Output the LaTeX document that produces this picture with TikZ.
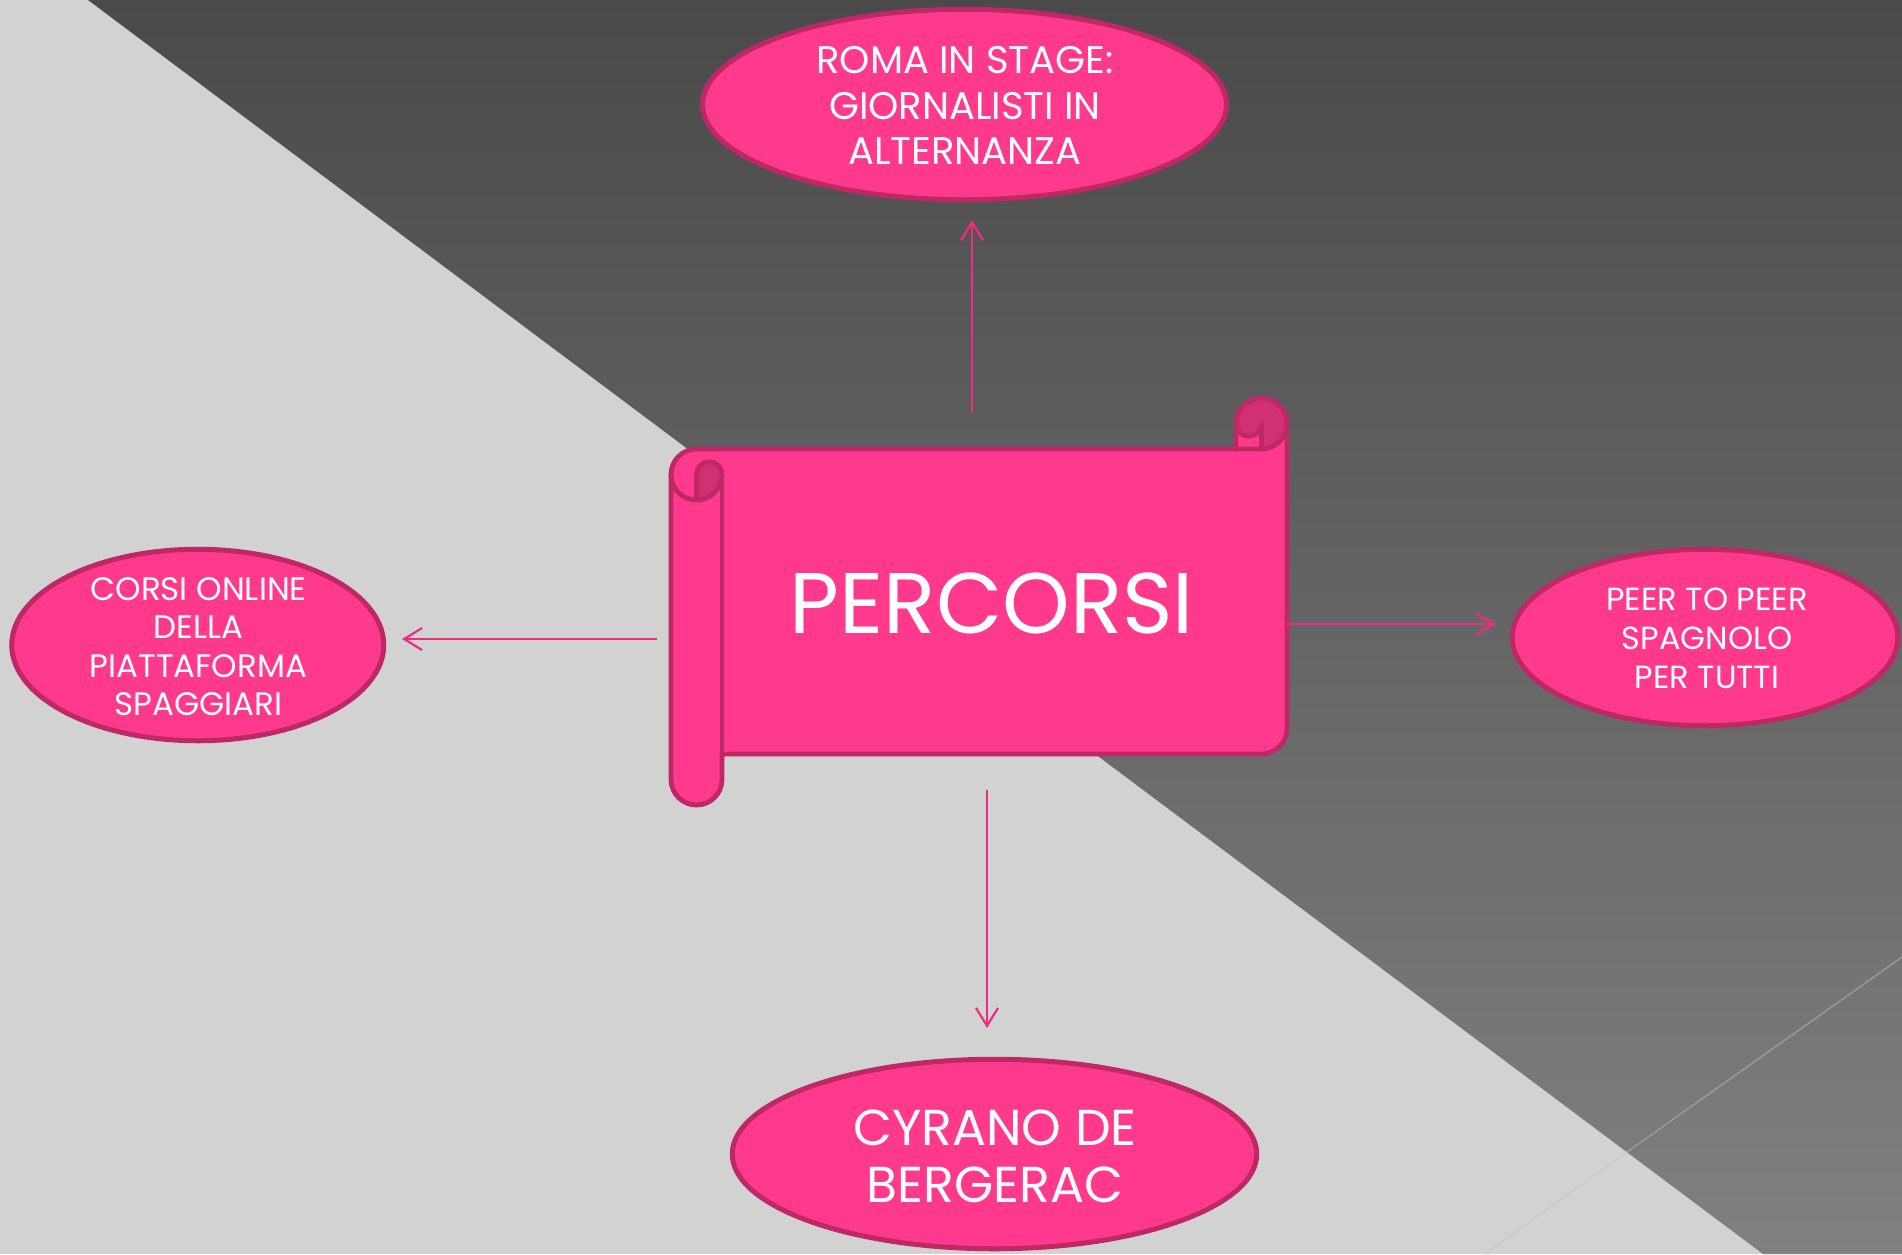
\documentclass[tikz,border=0pt]{standalone}
\usepackage{fontspec}
\setmainfont{Poppins}
\usetikzlibrary{shapes.geometric,arrows.meta}
\definecolor{pinkfill}{HTML}{FF3A8C}
\definecolor{pinkline}{HTML}{BE2864}
\definecolor{pinkdark}{HTML}{D23074}
\definecolor{arrowpink}{HTML}{EE2D80}
\definecolor{lightbg}{HTML}{D2D2D2}
\definecolor{darktop}{HTML}{4A4A4A}
\definecolor{darkbot}{HTML}{808080}
\begin{document}
\begin{tikzpicture}[x=1pt,y=-1pt,
  bubble/.style={ellipse, draw=pinkline, fill=pinkfill, line width=5pt, inner sep=0pt},
  txt/.style={text=white, align=center, inner sep=0pt},
  conn/.style={draw=arrowpink, line width=2.2pt, -{Straight Barb[length=18pt,width=22pt]}},
  scrollline/.style={draw=pinkline, line width=4.8pt, line join=round, line cap=round}]
\useasboundingbox (0,0) rectangle (1902,1254);
% background
\fill[lightbg] (0,0) rectangle (1902,1254);
\shade[top color=darktop, bottom color=darkbot] (88,0) -- (1902,0) -- (1902,1254) -- (1763,1254) -- cycle;
\draw[line width=1.5pt, color=black!40] (1627,1152) -- (1902,957);
\draw[line width=1.5pt, color=black!21] (1485,1254) -- (1627,1152);
% scroll shape
\fill[pinkfill] (1287,423.5) arc[start angle=0,delta angle=90,radius=25.5]
  -- (1261.5,423.5) arc[start angle=0,delta angle=180,radius=12.75]
  -- (1236,449) -- (696.5,449) arc[start angle=270,delta angle=-90,radius=25.5]
  -- (671,779.5) arc[start angle=180,delta angle=-180,radius=25.5]
  -- (722,754) -- (1261.5,754) arc[start angle=90,delta angle=-90,radius=25.5]
  -- cycle;
\fill[pinkdark] (696.5,500) arc[start angle=90,delta angle=-90,radius=25.5]
  arc[start angle=0,delta angle=-180,radius=12.75] -- cycle;
\fill[pinkdark] (1261.5,449) arc[start angle=90,delta angle=-270,radius=25.5]
  arc[start angle=180,delta angle=-180,radius=12.75] -- cycle;
\draw[scrollline] (671,474.5) arc[start angle=180,delta angle=90,radius=25.5]
  -- (1236,449) -- (1236,423.5) arc[start angle=180,delta angle=180,radius=25.5]
  -- (1287,728.5) arc[start angle=0,delta angle=90,radius=25.5]
  -- (722,754) -- (722,779.5) arc[start angle=0,delta angle=180,radius=25.5]
  -- cycle;
\draw[scrollline] (1236,449) -- (1261.5,449) arc[start angle=90,delta angle=-90,radius=25.5];
\draw[scrollline] (1261.5,449) -- (1261.5,423.5) arc[start angle=0,delta angle=180,radius=12.75];
\draw[scrollline] (696.5,500) -- (696.5,474.5) arc[start angle=180,delta angle=180,radius=12.75]
  arc[start angle=0,delta angle=180,radius=25.5];
\draw[scrollline] (722,474.5) -- (722,754);
\node[inner sep=0pt, minimum width=616pt, minimum height=407pt] (scroll) at (979,601.5) {};
% ellipses
\node[bubble, minimum width=524pt, minimum height=190.5pt] (top) at (964.5,104.5) {};
\node[bubble, minimum width=372pt, minimum height=191.5pt] (left) at (197.75,645) {};
\node[bubble, minimum width=385.5pt, minimum height=176.5pt] (right) at (1705,637.5) {};
\node[bubble, minimum width=524.5pt, minimum height=189.5pt] (bottom) at (994.5,1154) {};
% connectors
\coordinate (upS) at (972,412);   \coordinate (upE) at (972,220);
\coordinate (leS) at (657,639);   \coordinate (leE) at (402,639);
\coordinate (riS) at (1287,624);  \coordinate (riE) at (1496,624);
\coordinate (doS) at (987,790);   \coordinate (doE) at (987,1028);
\draw[conn] (upS) -- (upE);
\draw[conn] (leS) -- (leE);
\draw[conn] (riS) -- (riE);
\draw[conn] (doS) -- (doE);
% texts
\node[txt, font=\fontsize{86}{86}\selectfont] (percorsiT) at (992,603) {PERCORSI};
\node[txt, font=\fontsize{38.5}{45.5}\selectfont] (topT) at (965,105.5) {ROMA IN STAGE:\\GIORNALISTI IN\\ALTERNANZA};
\node[txt, font=\fontsize{32.5}{38.3}\selectfont] (leftT) at (198.5,646.5) {CORSI ONLINE\\DELLA\\PIATTAFORMA\\SPAGGIARI};
\node[txt, font=\fontsize{32}{39}\selectfont] (rightT) at (1707,638) {PEER TO PEER\\SPAGNOLO\\PER TUTTI};
\node[txt, font=\fontsize{50.5}{57}\selectfont] (bottomT) at (995,1156) {CYRANO DE\\BERGERAC};
\end{tikzpicture}
\end{document}
